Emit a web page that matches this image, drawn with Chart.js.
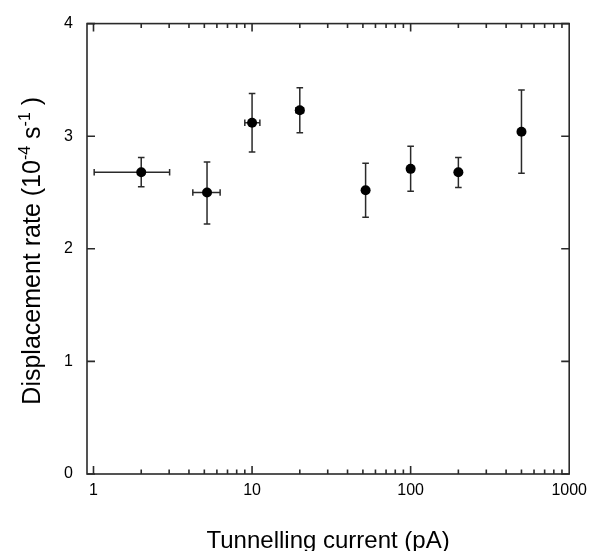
<!DOCTYPE html>
<html><head><meta charset="utf-8">
<script src="https://cdn.jsdelivr.net/npm/chart.js@4.4.1/dist/chart.umd.min.js"></script>
<style>html,body{margin:0;padding:0;background:#fff}canvas{display:block}</style>
</head><body>
<canvas id="c" width="594" height="551"></canvas>
<script>
// ---- data ----
const currents    = [2, 5.2, 10, 20, 52, 100, 200, 500];          // pA
const rates       = [2.68, 2.50, 3.12, 3.23, 2.52, 2.71, 2.68, 3.04];
const rateLow     = [2.55, 2.22, 2.86, 3.03, 2.28, 2.51, 2.545, 2.67];
const rateHigh    = [2.81, 2.77, 3.38, 3.43, 2.76, 2.91, 2.81, 3.41];
const currentLow  = [1.01, 4.23, 9.0, 18.9, null, null, null, null];
const currentHigh = [3.02, 6.29, 11.2, 21.1, null, null, null, null];
const xTickValues = [1, 10, 100, 1000];
const xTickLabels = ['1', '10', '100', '1000'];
const yTickValues = [0, 1, 2, 3, 4];
const yTickLabels = ['0', '1', '2', '3', '4'];
const xTitle = 'Tunnelling current (pA)';
const yTitleParts = [['Displacement rate (10', false], ['-4', true], [' s', false], ['-1', true], [' )', false]];

const FAMILY = '"Liberation Sans", Arial, Helvetica, sans-serif';
const INK = '#2a2a2a';

const framePlugin = {
  id: 'frame',
  beforeDatasetsDraw(chart) {
    const {ctx, scales: {x, y}} = chart;
    ctx.save();
    ctx.strokeStyle = INK;
    ctx.lineWidth = 1.5;
    for (let i = 0; i < currents.length; i++) {
      const px = x.getPixelForValue(currents[i]);
      const py = y.getPixelForValue(rates[i]);
      const yl = y.getPixelForValue(rateLow[i]);
      const yh = y.getPixelForValue(rateHigh[i]);
      ctx.beginPath();
      ctx.moveTo(px, yl); ctx.lineTo(px, yh);
      ctx.moveTo(px - 3.3, yl); ctx.lineTo(px + 3.3, yl);
      ctx.moveTo(px - 3.3, yh); ctx.lineTo(px + 3.3, yh);
      ctx.stroke();
      if (currentLow[i] != null) {
        const xl = x.getPixelForValue(currentLow[i]);
        const xh = x.getPixelForValue(currentHigh[i]);
        ctx.beginPath();
        ctx.moveTo(xl, py); ctx.lineTo(xh, py);
        ctx.moveTo(xl, py - 3.3); ctx.lineTo(xl, py + 3.3);
        ctx.moveTo(xh, py - 3.3); ctx.lineTo(xh, py + 3.3);
        ctx.stroke();
      }
    }
    ctx.restore();
  },
  afterDraw(chart) {
    const {ctx, chartArea: a, scales: {x, y}} = chart;
    ctx.save();
    ctx.strokeStyle = INK;
    ctx.lineWidth = 1.6;
    ctx.strokeRect(a.left, a.top, a.right - a.left, a.bottom - a.top);
    ctx.beginPath();
    // x ticks (inward, bottom and top)
    for (let dec = 1; dec < 1000; dec *= 10) {
      for (let m = 1; m <= 9; m++) {
        const v = dec * m;
        const px = x.getPixelForValue(v);
        if (px < a.left || px > a.right) continue;
        const len = m === 1 ? 8 : 4.5;
        ctx.moveTo(px, a.bottom); ctx.lineTo(px, a.bottom - len);
        ctx.moveTo(px, a.top); ctx.lineTo(px, a.top + len);
      }
    }
    // y ticks (inward, left and right)
    yTickValues.forEach(v => {
      const py = y.getPixelForValue(v);
      ctx.moveTo(a.left, py); ctx.lineTo(a.left + 8, py);
      ctx.moveTo(a.right, py); ctx.lineTo(a.right - 8, py);
    });
    ctx.stroke();

    // axis titles
    ctx.fillStyle = '#000';
    ctx.font = '24px ' + FAMILY;
    ctx.textAlign = 'center';
    ctx.textBaseline = 'alphabetic';
    ctx.fillText(xTitle, (a.left + a.right) / 2, chart.height - 3.5);

    const mainFont = '25px ' + FAMILY, supFont = '16px ' + FAMILY;
    let total = 0;
    yTitleParts.forEach(([t, sup]) => { ctx.font = sup ? supFont : mainFont; total += ctx.measureText(t).width; });
    ctx.translate(40, (a.top + a.bottom) / 2 + 2);
    ctx.rotate(-Math.PI / 2);
    ctx.textAlign = 'left';
    let cx = -total / 2;
    yTitleParts.forEach(([t, sup]) => {
      ctx.font = sup ? supFont : mainFont;
      ctx.fillText(t, cx, sup ? -10.5 : 0);
      cx += ctx.measureText(t).width;
    });
    ctx.restore();
  }
};

new Chart(document.getElementById('c'), {
  type: 'scatter',
  data: {
    datasets: [{
      data: currents.map((c, i) => ({x: c, y: rates[i]})),
      pointRadius: 5,
      pointHoverRadius: 5,
      pointStyle: 'circle',
      backgroundColor: '#000',
      borderColor: '#000',
      borderWidth: 0
    }]
  },
  options: {
    responsive: false,
    animation: false,
    devicePixelRatio: 1,
    events: [],
    layout: {padding: {left: 0, right: 22, top: 23, bottom: 0}},
    plugins: {legend: {display: false}, tooltip: {enabled: false}, title: {display: false}},
    scales: {
      x: {
        type: 'logarithmic',
        min: 0.91, max: 1000,
        grid: {display: false, drawTicks: false},
        border: {display: false},
        afterBuildTicks: s => { s.ticks = xTickValues.map(v => ({value: v})); },
        afterFit: s => { s.height = 77; },
        ticks: {
          autoSkip: false, maxRotation: 0, minRotation: 0, padding: 7,
          color: '#000', font: {family: FAMILY, size: 16},
          callback: v => { const i = xTickValues.indexOf(v); return i >= 0 ? xTickLabels[i] : ''; }
        }
      },
      y: {
        min: 0, max: 4,
        grid: {display: false, drawTicks: false},
        border: {display: false},
        afterBuildTicks: s => { s.ticks = yTickValues.map(v => ({value: v})); },
        afterFit: s => { s.width = 87; },
        ticks: {
          padding: 14, color: '#000', font: {family: FAMILY, size: 16},
          callback: v => { const i = yTickValues.indexOf(v); return i >= 0 ? yTickLabels[i] : ''; }
        }
      }
    }
  },
  plugins: [framePlugin]
});
</script>
</body></html>
